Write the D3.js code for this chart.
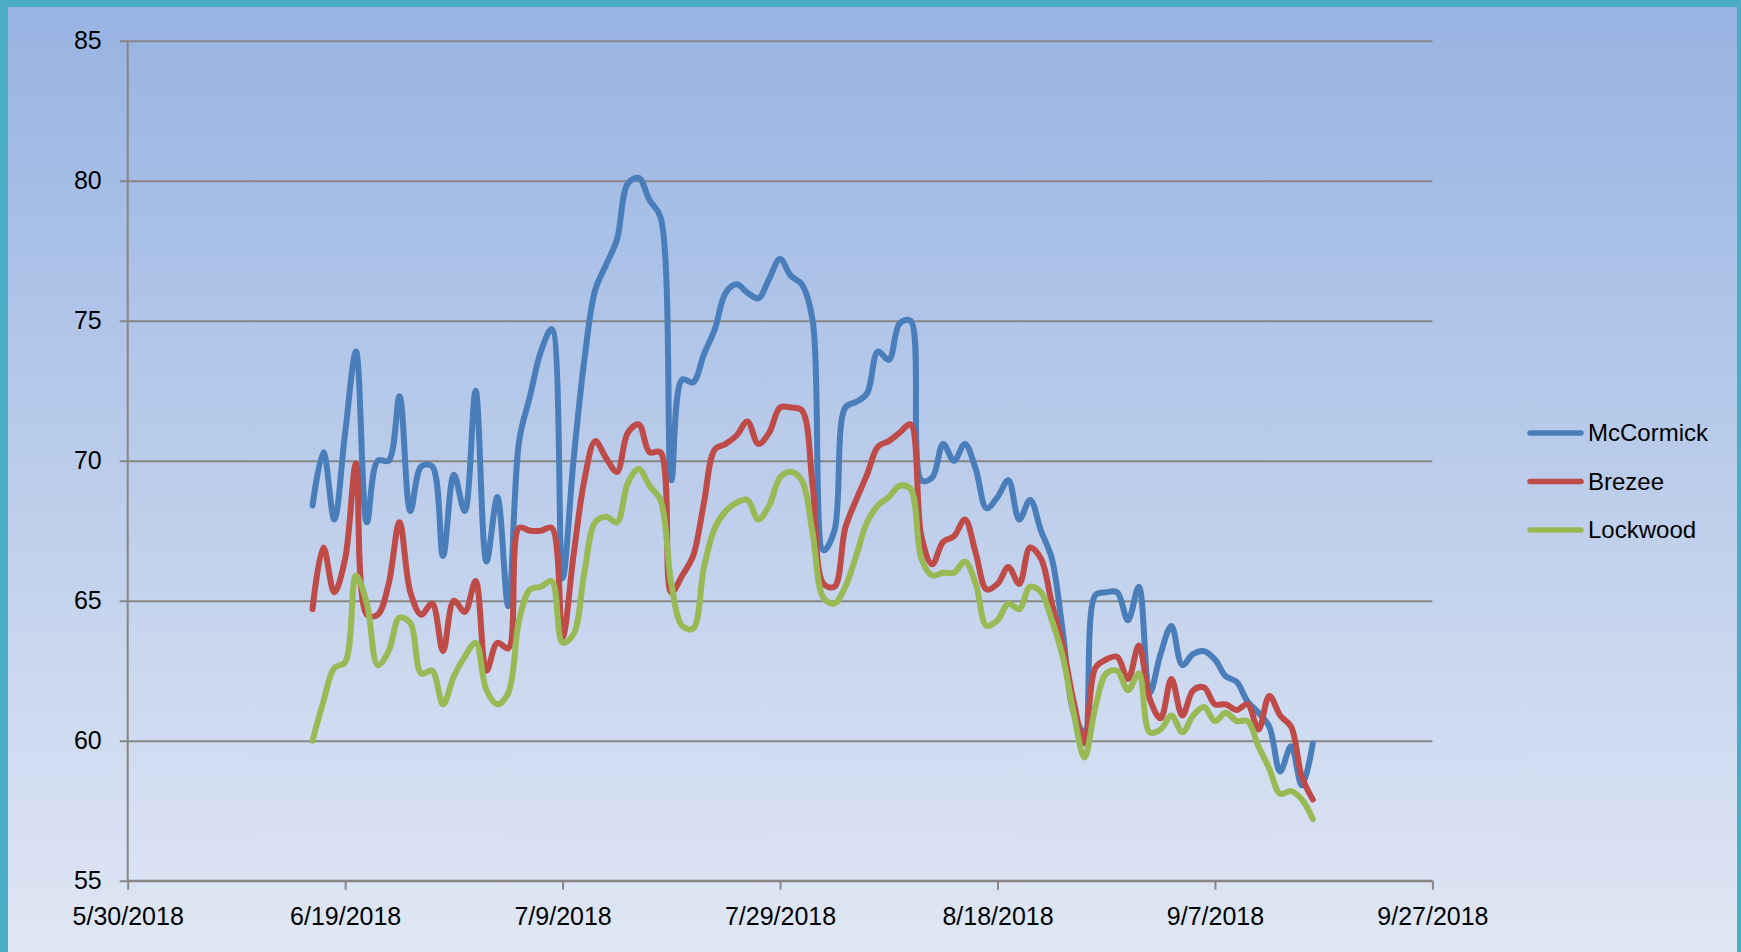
<!DOCTYPE html>
<html>
<head>
<meta charset="utf-8">
<script src="https://cdn.jsdelivr.net/npm/d3@7"></script>
<style>
  html, body { margin: 0; padding: 0; background: #ffffff; }
  svg { display: block; }
  text { font-family: "Liberation Sans", Arial, sans-serif; fill: #000; }
</style>
</head>
<body>
<svg id="chart" width="1741" height="952"></svg>
<script>
// ---------------- data ----------------
const firstDate = "6/16/2018"; // daily readings start here
const seriesNames = ["McCormick", "Brezee", "Lockwood"];
const seriesColors = ["#4A7EBB", "#BE4B48", "#98B954"];

const mccormick = [
  68.4, 70.3, 67.9, 71.0, 73.9, 67.8, 70.0, 70.0, 72.3, 68.2,
  69.8, 69.8, 66.6, 69.5, 68.2, 72.5, 66.4, 68.7, 64.8, 70.7,
  72.3, 73.9, 74.7, 65.8, 70.0, 73.6, 76.1, 77.0, 77.9, 79.9,
  80.1, 79.3, 78.7, 69.3, 72.9, 72.8, 73.8, 74.7, 76.0, 76.3,
  76.0, 75.8, 76.5, 77.2, 76.6, 76.3, 75.0, 66.8, 67.5, 71.9,
  72.1, 72.4, 73.9, 73.6, 74.9, 75.0, 69.3, 69.4, 70.6, 70.0,
  70.6, 69.7, 68.3, 68.7, 69.3, 67.9, 68.6, 67.5, 66.5, 63.9,
  61.0, 60.3, 65.2, 65.3, 65.3, 64.3, 65.5, 61.7, 63.1, 64.1,
  62.7, 63.1, 63.2, 62.9, 62.3, 62.1, 61.4, 61.0, 60.5, 58.9,
  59.8, 58.4, 59.9
];
const brezee = [
  64.7, 66.9, 65.3, 66.5, 69.9, 64.5, 64.5, 65.6, 67.8, 65.3,
  64.5, 64.9, 63.2, 65.0, 64.6, 65.7, 62.5, 63.5, 63.3, 67.6,
  67.5, 67.5, 67.6, 63.7, 66.6, 69.3, 70.7, 70.1, 69.6, 71.0,
  71.3, 70.3, 70.3, 65.3, 65.9, 66.6, 68.5, 70.4, 70.6, 70.9,
  71.4, 70.6, 71.0, 71.9, 71.9, 71.8, 69.1, 65.6, 65.5, 67.6,
  68.6, 69.5, 70.5, 70.7, 71.0, 71.3, 67.3, 66.3, 67.1, 67.3,
  67.9, 66.7, 65.4, 65.6, 66.2, 65.6, 66.9, 66.5, 64.9, 63.4,
  61.4, 59.9, 62.6, 62.9, 63.0, 62.2, 63.4, 61.5, 60.8, 62.2,
  60.9, 61.8, 61.9, 61.3, 61.3, 61.1, 61.3, 60.4, 61.6, 60.9,
  60.5, 58.7, 57.9
];
const lockwood = [
  60.0, 61.4, 62.6, 62.8, 65.9, 64.9, 62.7, 63.2, 64.4, 64.2,
  62.4, 62.5, 61.3, 62.3, 63.0, 63.5, 61.8, 61.3, 61.7, 64.3,
  65.4, 65.5, 65.7, 63.5, 63.8, 66.0, 67.8, 68.0, 67.8, 69.2,
  69.7, 69.1, 68.6, 65.6, 64.1, 64.0, 66.2, 67.6, 68.2, 68.5,
  68.6, 67.9, 68.4, 69.4, 69.6, 69.3, 67.4, 65.1, 64.9, 65.5,
  66.6, 67.8, 68.4, 68.7, 69.1, 69.0, 66.5, 65.9, 66.0, 66.0,
  66.4, 65.6, 64.1, 64.3, 64.9, 64.7, 65.5, 65.3, 64.3, 63.0,
  61.0, 59.4, 61.2, 62.4, 62.5, 61.8, 62.4, 60.3, 60.4, 60.9,
  60.3, 60.9, 61.2, 60.7, 61.0, 60.7, 60.7, 59.8, 59.0, 58.1,
  58.2, 57.9, 57.2
];
const xTickLabels = ["5/30/2018", "6/19/2018", "7/9/2018", "7/29/2018", "8/18/2018", "9/7/2018", "9/27/2018"];
const yTickValues = [55, 60, 65, 70, 75, 80, 85];

// ---------------- setup ----------------
const W = 1741, H = 952;
const svg = d3.select("#chart");
const parse = d3.timeParse("%m/%d/%Y");
const tickDates = xTickLabels.map(parse);
const start = parse(firstDate);

const allSeries = [mccormick, brezee, lockwood].map((vals, k) => ({
  name: seriesNames[k],
  color: seriesColors[k],
  points: vals.map((v, i) => ({ date: d3.timeDay.offset(start, i), value: v }))
}));

const plot = { left: 127.7, right: 1432.4, top: 40.7, bottom: 880.7 };
const x = d3.scaleTime().domain([tickDates[0], tickDates[tickDates.length - 1]]).range([plot.left, plot.right]);
const y = d3.scaleLinear().domain([55, 85]).range([plot.bottom, plot.top]);

// background gradient
const defs = svg.append("defs");
const grad = defs.append("linearGradient").attr("id", "bg").attr("x1", 0).attr("y1", 0).attr("x2", 0).attr("y2", 1);
grad.append("stop").attr("offset", "0%").attr("stop-color", "#97B3E2");
grad.append("stop").attr("offset", "100%").attr("stop-color", "#E0E7F4");

svg.append("rect").attr("x", 0).attr("y", 0).attr("width", W).attr("height", H).attr("fill", "url(#bg)");

// teal frame (left, top, right)
svg.append("rect").attr("x", 0).attr("y", 0).attr("width", 8).attr("height", H).attr("fill", "#4BACC6");
svg.append("rect").attr("x", 0).attr("y", 0).attr("width", W).attr("height", 7).attr("fill", "#4BACC6");
svg.append("rect").attr("x", 1737).attr("y", 0).attr("width", 4).attr("height", H).attr("fill", "#4BACC6");

const gridColor = "#868686";

// y axis with gridlines
const yAxis = d3.axisLeft(y).tickValues(yTickValues).tickSize(8).tickPadding(18).tickFormat(d3.format("d"));
const gy = svg.append("g").attr("transform", `translate(${plot.left},0)`).call(yAxis);
gy.select(".domain").attr("stroke", gridColor).attr("stroke-width", 2).attr("d", `M0,${plot.top}V${plot.bottom}`);
gy.selectAll(".tick line").attr("stroke", gridColor).attr("stroke-width", 2).attr("x1", -8).attr("x2", plot.right - plot.left);
gy.selectAll(".tick text").attr("font-size", 25).attr("font-family", "Liberation Sans, Arial, sans-serif").attr("fill", "#000");

// x axis
const xAxis = d3.axisBottom(x).tickValues(tickDates).tickSize(9).tickPadding(18)
  .tickFormat((d, i) => xTickLabels[i]);
const gx = svg.append("g").attr("transform", `translate(0,${plot.bottom})`).call(xAxis);
gx.select(".domain").attr("stroke", gridColor).attr("stroke-width", 2).attr("d", `M${plot.left},0H${plot.right}`);
gx.selectAll(".tick line").attr("stroke", gridColor).attr("stroke-width", 2);
gx.selectAll(".tick text").attr("font-size", 25).attr("font-family", "Liberation Sans, Arial, sans-serif").attr("fill", "#000");

// series lines
const line = d3.line().x(d => x(d.date)).y(d => y(d.value)).curve(d3.curveCatmullRom.alpha(0.5));
svg.append("g").selectAll("path").data(allSeries).join("path")
  .attr("d", d => line(d.points))
  .attr("fill", "none")
  .attr("stroke", d => d.color)
  .attr("stroke-width", 6)
  .attr("stroke-linejoin", "round")
  .attr("stroke-linecap", "round");

// legend
const legendY = d3.scalePoint().domain(seriesNames).range([433, 530]);
const lg = svg.append("g").selectAll("g").data(allSeries).join("g")
  .attr("transform", d => `translate(1528,${legendY(d.name)})`);
lg.append("line").attr("x1", 2).attr("x2", 53).attr("y1", 0).attr("y2", 0)
  .attr("stroke", d => d.color).attr("stroke-width", 5.5).attr("stroke-linecap", "round");
lg.append("text").attr("x", 60).attr("y", 0).attr("dy", "0.35em")
  .attr("font-size", 24).text(d => d.name);
</script>
</body>
</html>
